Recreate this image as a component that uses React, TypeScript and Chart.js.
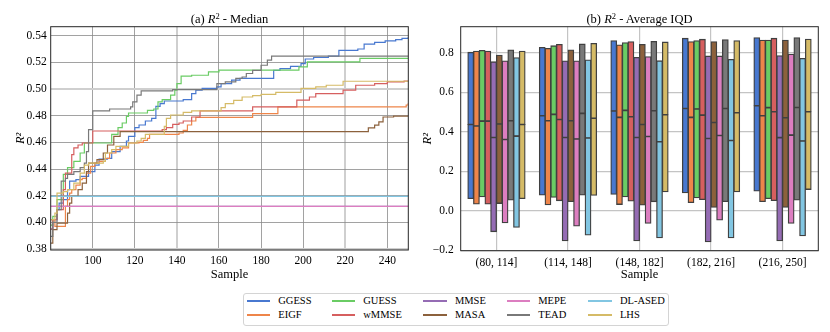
import React, { useEffect, useRef } from 'react';
import { Chart, registerables } from 'chart.js';

Chart.register(...registerables);

const METHODS = ['GGESS', 'EIGF', 'GUESS', 'wMMSE', 'MMSE', 'MASA', 'MEPE', 'TEAD', 'DL-ASED', 'LHS'];
const COLORS = ['#4878d0', '#ee854a', '#6acc64', '#d65f5f', '#956cb4', '#8c613c', '#dc7ec0', '#797979', '#82c6e2', '#d5bb67'];

// ---- (a) R^2 median: step change points (sample, value) ----
const GGESS_X = [80, 81, 83, 84, 86, 88, 89, 92, 94, 98, 101, 103, 107, 109, 113, 116, 117, 120, 122, 125, 128, 130, 132, 134, 143, 147, 149, 152, 159, 161, 166, 170, 186, 189, 194, 199, 201, 205, 212, 217, 226, 229, 234, 239, 244, 247, 250];
const GGESS_Y = [0.395, 0.402, 0.4095, 0.4145, 0.417, 0.4245, 0.431, 0.432, 0.4345, 0.438, 0.443, 0.4475, 0.448, 0.453, 0.457, 0.461, 0.4645, 0.471, 0.473, 0.476, 0.478, 0.487, 0.489, 0.491, 0.492, 0.4966, 0.4991, 0.5004, 0.5016, 0.504, 0.5066, 0.5079, 0.514, 0.5153, 0.517, 0.519, 0.5225, 0.5236, 0.5246, 0.529, 0.530, 0.5336, 0.535, 0.536, 0.537, 0.538, 0.539];

const EIGF_X = [80, 82, 87, 88, 89, 90, 92, 94, 95, 97, 99, 101, 103, 106, 108, 111, 114, 117, 122, 124, 126, 127, 141, 143, 145, 147, 149, 176, 188, 249, 250];
const EIGF_Y = [0.402, 0.397, 0.412, 0.417, 0.422, 0.4245, 0.428, 0.432, 0.433, 0.437, 0.442, 0.4445, 0.4458, 0.448, 0.452, 0.4545, 0.4558, 0.4595, 0.460, 0.4615, 0.463, 0.466, 0.467, 0.469, 0.473, 0.476, 0.4787, 0.4815, 0.4866, 0.488, 0.4895];

const GUESS_X = [80, 81, 83, 86, 88, 91, 94, 96, 109, 112, 114, 116, 117, 126, 129, 131, 133, 137, 139, 140, 142, 147, 155, 160, 198, 202, 227, 250];
const GUESS_Y = [0.398, 0.4045, 0.417, 0.436, 0.441, 0.4458, 0.452, 0.4595, 0.466, 0.471, 0.4745, 0.4795, 0.482, 0.484, 0.485, 0.4904, 0.4921, 0.4954, 0.4991, 0.504, 0.5096, 0.5103, 0.5129, 0.5141, 0.5166, 0.5203, 0.5229, 0.5229];

const WMMSE_X = [80, 81, 83, 86, 87, 90, 91, 93, 95, 100, 133, 135, 138, 141, 143, 147, 151, 176, 197, 203, 206, 219, 225, 234, 240, 248, 250];
const WMMSE_Y = [0.395, 0.402, 0.4095, 0.4245, 0.437, 0.4508, 0.4558, 0.458, 0.4595, 0.4685, 0.4695, 0.471, 0.4735, 0.4745, 0.476, 0.479, 0.4836, 0.4866, 0.4916, 0.494, 0.4966, 0.4991, 0.5028, 0.504, 0.5053, 0.506, 0.506];

const MMSE_X = [80, 250];
const MMSE_Y = [0.412, 0.412];

const MASA_X = [80, 81, 83, 88, 89, 90, 93, 95, 97, 98, 102, 105, 107, 110, 113, 231, 234, 236, 238, 243, 250];
const MASA_Y = [0.3845, 0.3945, 0.3995, 0.407, 0.4145, 0.4195, 0.4245, 0.4295, 0.438, 0.4445, 0.447, 0.452, 0.458, 0.4645, 0.468, 0.4709, 0.4729, 0.4754, 0.479, 0.4797, 0.4797];

const MEPE_X = [80, 250];
const MEPE_Y = [0.412, 0.412];

const TEAD_X = [80, 81, 83, 85, 87, 88, 91, 94, 96, 97, 98, 100, 108, 118, 119, 121, 123, 138, 159, 163, 168, 171, 173, 176, 180, 183, 185, 250];
const TEAD_Y = [0.3895, 0.40, 0.4095, 0.431, 0.433, 0.436, 0.438, 0.441, 0.4445, 0.453, 0.4695, 0.4836, 0.485, 0.4866, 0.4904, 0.4954, 0.4986, 0.4995, 0.504, 0.5053, 0.5079, 0.509, 0.5116, 0.514, 0.5178, 0.5216, 0.5246, 0.5246];

const DLASED_X = [80, 250];
const DLASED_Y = [0.4195, 0.4195];

const LHS_X = [80, 82, 83, 86, 88, 91, 94, 96, 98, 105, 106, 109, 111, 117, 121, 123, 125, 134, 135, 137, 143, 147, 161, 163, 167, 171, 176, 180, 187, 199, 206, 211, 219, 250];
const LHS_Y = [0.402, 0.407, 0.422, 0.423, 0.4245, 0.4295, 0.437, 0.443, 0.4445, 0.4458, 0.452, 0.4545, 0.457, 0.4595, 0.461, 0.463, 0.466, 0.472, 0.478, 0.4805, 0.4825, 0.4836, 0.486, 0.489, 0.4914, 0.494, 0.495, 0.496, 0.4974, 0.5004, 0.5016, 0.5028, 0.5058, 0.5062];

const LINE_X = [GGESS_X, EIGF_X, GUESS_X, WMMSE_X, MMSE_X, MASA_X, MEPE_X, TEAD_X, DLASED_X, LHS_X];
const LINE_Y = [GGESS_Y, EIGF_Y, GUESS_Y, WMMSE_Y, MMSE_Y, MASA_Y, MEPE_Y, TEAD_Y, DLASED_Y, LHS_Y];

const SAMPLE_TICKS = [100, 120, 140, 160, 180, 200, 220, 240];
const MEDIAN_TICKS = [0.38, 0.40, 0.42, 0.44, 0.46, 0.48, 0.50, 0.52, 0.54];

// ---- (b) R^2 average IQD: per method, per bin ----
const BINS = ['(80, 114]', '(114, 148]', '(148, 182]', '(182, 216]', '(216, 250]'];
const IQD_Q1 = [
  [0.062, 0.079, 0.083, 0.091, 0.100],
  [0.034, 0.030, 0.032, 0.041, 0.047],
  [0.071, 0.068, 0.071, 0.066, 0.062],
  [0.034, 0.051, 0.049, 0.057, 0.052],
  [-0.106, -0.152, -0.152, -0.157, -0.152],
  [0.037, 0.047, 0.029, 0.017, 0.017],
  [-0.061, -0.078, -0.064, -0.047, -0.064],
  [0.054, 0.079, 0.046, 0.047, 0.054],
  [-0.084, -0.123, -0.137, -0.137, -0.127],
  [0.062, 0.078, 0.096, 0.096, 0.108],
];
const IQD_MED = [
  [0.437, 0.481, 0.505, 0.518, 0.532],
  [0.429, 0.456, 0.473, 0.473, 0.481],
  [0.454, 0.488, 0.508, 0.515, 0.522],
  [0.454, 0.462, 0.476, 0.484, 0.501],
  [0.371, 0.371, 0.371, 0.366, 0.370],
  [0.439, 0.456, 0.437, 0.447, 0.471],
  [0.361, 0.363, 0.376, 0.381, 0.383],
  [0.456, 0.493, 0.506, 0.518, 0.523],
  [0.378, 0.368, 0.349, 0.356, 0.353],
  [0.437, 0.468, 0.486, 0.496, 0.501],
];
const IQD_Q3 = [
  [0.802, 0.827, 0.861, 0.873, 0.876],
  [0.808, 0.822, 0.839, 0.856, 0.864],
  [0.812, 0.835, 0.851, 0.861, 0.864],
  [0.808, 0.842, 0.856, 0.868, 0.873],
  [0.754, 0.758, 0.776, 0.783, 0.785],
  [0.788, 0.814, 0.842, 0.856, 0.864],
  [0.758, 0.758, 0.780, 0.783, 0.793],
  [0.814, 0.844, 0.857, 0.866, 0.876],
  [0.775, 0.763, 0.759, 0.766, 0.771],
  [0.808, 0.847, 0.854, 0.861, 0.869],
];
const IQD_TICKS = [-0.2, 0.0, 0.2, 0.4, 0.6, 0.8];

const FONT = 'Liberation Serif';

Chart.defaults.font.family = FONT;

const framePlugin = {
  id: 'frame',
  afterDraw(chart: any) {
    const { ctx, chartArea: a } = chart;
    ctx.save();
    ctx.strokeStyle = '#262626';
    ctx.lineWidth = 1;
    ctx.strokeRect(a.left, a.top, a.right - a.left, a.bottom - a.top);
    ctx.restore();
  },
};

const LIGHT_X = [140, 220];
const LIGHT_Y = [0.5, 0.38];

export default function App() {
  const leftRef = useRef<HTMLCanvasElement>(null);
  const rightRef = useRef<HTMLCanvasElement>(null);

  useEffect(() => {
    const tickFont = { family: FONT, size: 11.5 };
    const titleFont = { family: FONT, size: 12.5 };

    const left = new Chart(leftRef.current!, {
      type: 'line',
      data: {
        datasets: METHODS.map((m, i) => ({
          label: m,
          data: LINE_X[i].map((x, j) => ({ x, y: LINE_Y[i][j] })),
          borderColor: COLORS[i],
          backgroundColor: COLORS[i],
          borderWidth: 1.2,
          pointRadius: 0,
          stepped: 'before' as const,
          fill: false,
          order: -i,
        })),
      },
      options: {
        animation: false,
        responsive: false,
        maintainAspectRatio: false,
        layout: { padding: { top: 26.7, right: 6.7, left: 0, bottom: 0 } },
        plugins: { legend: { display: false }, tooltip: { enabled: false } },
        scales: {
          x: {
            type: 'linear',
            min: 80,
            max: 250,
            afterBuildTicks: (axis: any) => { axis.ticks = SAMPLE_TICKS.map((v) => ({ value: v })); },
            afterFit: (s: any) => { s.height = 35; },
            border: { display: false },
            grid: {
              drawTicks: false,
              color: (c: any) => (LIGHT_X.includes(c.tick?.value) ? '#cfcfcf' : '#8a8a8a'),
              lineWidth: (c: any) => (LIGHT_X.includes(c.tick?.value) ? 2 : 0.8),
            },
            ticks: { color: '#000', font: tickFont, padding: 4, maxRotation: 0, callback: (v: any) => String(v) },
            title: { display: true, text: 'Sample', color: '#000', font: titleFont, padding: { top: 0, bottom: 2.5 } },
          },
          y: {
            type: 'linear',
            min: 0.3793,
            max: 0.5467,
            afterBuildTicks: (axis: any) => { axis.ticks = MEDIAN_TICKS.map((v) => ({ value: v })); },
            afterFit: (s: any) => { s.width = 50.7; },
            border: { display: false },
            grid: {
              drawTicks: false,
              color: (c: any) => (LIGHT_Y.some((v) => Math.abs(v - c.tick?.value) < 1e-6) ? '#cfcfcf' : '#8a8a8a'),
              lineWidth: (c: any) => (LIGHT_Y.some((v) => Math.abs(v - c.tick?.value) < 1e-6) ? 2 : 0.8),
            },
            ticks: { color: '#000', font: tickFont, padding: 4, callback: (v: any) => Number(v).toFixed(2) },
            title: { display: true, text: 'R²', color: '#000', font: { ...titleFont, style: 'italic' }, padding: { top: 13, bottom: 0 } },
          },
        },
      },
      plugins: [framePlugin],
    } as any);

    const barDatasets: any[] = [];
    METHODS.forEach((m, i) => {
      const common = {
        stack: m,
        backgroundColor: COLORS[i],
        borderColor: '#404040',
        borderWidth: 1.3,
        borderSkipped: false,
        inflateAmount: 0.5,
        categoryPercentage: 0.8,
        barPercentage: 1.0,
      };
      barDatasets.push({ ...common, label: m, data: BINS.map((_, b) => [IQD_Q1[i][b], IQD_MED[i][b]]) });
      barDatasets.push({ ...common, label: m + ' upper', data: BINS.map((_, b) => [IQD_MED[i][b], IQD_Q3[i][b]]) });
    });

    const right = new Chart(rightRef.current!, {
      type: 'bar',
      data: { labels: BINS, datasets: barDatasets },
      options: {
        animation: false,
        responsive: false,
        maintainAspectRatio: false,
        layout: { padding: { top: 26.7, right: 11.7, left: 0, bottom: 0 } },
        plugins: { legend: { display: false }, tooltip: { enabled: false } },
        scales: {
          x: {
            stacked: true,
            afterFit: (s: any) => { s.height = 34.3; },
            border: { display: false },
            grid: { offset: false, drawTicks: false, color: '#c4c4c4', lineWidth: 1.2 },
            ticks: { color: '#000', font: tickFont, padding: 5, maxRotation: 0 },
            title: { display: true, text: 'Sample', color: '#000', font: titleFont, padding: { top: 0, bottom: 2.5 } },
          },
          y: {
            stacked: false,
            type: 'linear',
            min: -0.2025,
            max: 0.932,
            afterBuildTicks: (axis: any) => { axis.ticks = IQD_TICKS.map((v) => ({ value: v })); },
            afterFit: (s: any) => { s.width = 45.7; },
            border: { display: false },
            grid: { drawTicks: false, color: '#c4c4c4', lineWidth: 1.2 },
            ticks: {
              color: '#000',
              font: tickFont,
              padding: 7,
              callback: (v: any) => { const n = Number(v); return (n < 0 ? '\u2212' : '') + Math.abs(n).toFixed(1); },
            },
            title: { display: true, text: 'R²', color: '#000', font: { ...titleFont, style: 'italic' }, padding: { top: 5.5, bottom: 0 } },
          },
        },
      },
      plugins: [framePlugin],
    } as any);

    return () => { left.destroy(); right.destroy(); };
  }, []);

  const legendCols = [3.7, 88.7, 180.3, 263.7, 345.3];
  const legendRows = [8, 22.3];

  return (
    <div style={{ position: 'absolute', left: 0, top: 0, width: 830, height: 332, background: '#fff', fontFamily: FONT }}>
      <canvas ref={leftRef} width={415} height={285} style={{ position: 'absolute', left: 0, top: 0, width: 415, height: 285 }} />
      <canvas ref={rightRef} width={415} height={285} style={{ position: 'absolute', left: 415, top: 0, width: 415, height: 285 }} />
      <div style={{ position: 'absolute', left: 129.5, width: 200, top: 10, height: 18, lineHeight: '18px', textAlign: 'center', fontSize: 12.5, color: '#000', whiteSpace: 'nowrap' }}>
        (a) <i>R</i><sup style={{ fontSize: 8.5, verticalAlign: 'top', lineHeight: '12px' }}>2</sup> - Median
      </div>
      <div style={{ position: 'absolute', left: 539.5, width: 200, top: 10, height: 18, lineHeight: '18px', textAlign: 'center', fontSize: 12.5, color: '#000', whiteSpace: 'nowrap' }}>
        (b) <i>R</i><sup style={{ fontSize: 8.5, verticalAlign: 'top', lineHeight: '12px' }}>2</sup> - Average IQD
      </div>
      <div style={{ position: 'absolute', left: 243, top: 292.7, width: 426.3, height: 33.3, boxSizing: 'border-box', border: '1px solid #d4d4d4', borderRadius: 3, background: '#fff' }}>
        {METHODS.map((m, i) => {
          const col = Math.floor(i / 2);
          const row = i % 2;
          return (
            <div key={m} style={{ position: 'absolute', left: legendCols[col] - 1, top: legendRows[row] - 1 - 7, height: 14, display: 'flex', alignItems: 'center', whiteSpace: 'nowrap' }}>
              <span style={{ display: 'inline-block', width: 23.3, height: 2, background: COLORS[i] }} />
              <span style={{ marginLeft: 8.3, fontSize: 10.5, lineHeight: '14px', color: '#000' }}>{m}</span>
            </div>
          );
        })}
      </div>
    </div>
  );
}
